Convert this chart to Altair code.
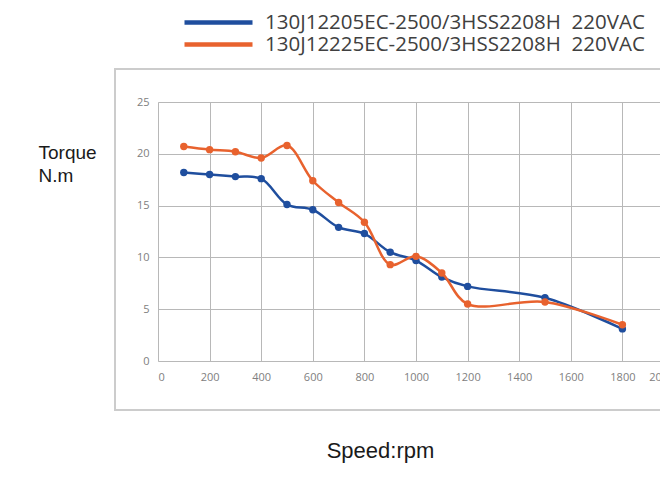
import altair as alt
import pandas as pd

speed = [100, 200, 300, 400, 500, 600, 700, 800, 900, 1000, 1100, 1200, 1500, 1800]
torque_a = [18.2, 18.0, 17.8, 17.6, 15.1, 14.6, 12.9, 12.3, 10.5, 9.7, 8.1, 7.2, 6.1, 3.1]
torque_b = [20.7, 20.4, 20.2, 19.6, 20.8, 17.4, 15.3, 13.4, 9.3, 10.1, 8.5, 5.5, 5.7, 3.5]
series_names = ["130J12205EC-2500/3HSS2208H\u00a0 220VAC", "130J12225EC-2500/3HSS2208H\u00a0 220VAC"]
colors = ["#1F4E9E", "#E8622E"]
x_ticks = [0, 200, 400, 600, 800, 1000, 1200, 1400, 1600, 1800, 2000]
y_ticks = [0, 5, 10, 15, 20, 25]

font = "Liberation Sans"
tick_font = "Open Sans"

xscale = alt.Scale(domain=[0, 2000], nice=False, range=[0, 516])
yscale = alt.Scale(domain=[0, 25], nice=False)

xaxis = alt.Axis(
    values=x_ticks,
    format="d",
    title="Speed:rpm",
    titleFont=font,
    titleFontSize=22,
    titleFontWeight="normal",
    titleColor="#1a1a1a",
    titleBaseline="alphabetic",
    titleAlign="center",
    titleY=96,
    titleX=222,
    labelFont=tick_font,
    labelFontSize=11,
    labelColor="#808080",
    labelPadding=10,
    domain=False,
    ticks=False,
    gridColor="#b8b8b8",
    gridWidth=1,
)
yaxis = alt.Axis(
    values=y_ticks,
    title=["Torque", "N.m"],
    titleFont=font,
    titleFontSize=19,
    titleFontWeight="normal",
    titleColor="#1a1a1a",
    titleAngle=0,
    titleAlign="left",
    titleBaseline="alphabetic",
    titleLineHeight=23,
    titleX=-120,
    titleY=56,
    labelFont=tick_font,
    labelFontSize=11,
    labelColor="#808080",
    labelPadding=9,
    domain=False,
    ticks=False,
    gridColor="#b8b8b8",
    gridWidth=1,
)


def legend_for(y):
    return alt.Legend(
        title=None,
        orient="none",
        legendX=24,
        legendY=y,
        padding=0,
        symbolType="stroke",
        symbolSize=4624,
        symbolStrokeWidth=4.5,
        labelFont=tick_font,
        labelFontSize=20.5,
        labelColor="#404040",
        labelOffset=10,
        labelLimit=700,
    )


frame = alt.Chart(pd.DataFrame({"a": [0]})).mark_rect(
    fillOpacity=0, stroke="#cccccc", strokeWidth=2
).encode(
    x=alt.value(-43), x2=alt.value(700), y=alt.value(-33), y2=alt.value(308)
)

layers = [frame]
legend_y = [-116, -94]
for name, vals, col, ly in zip(series_names, [torque_a, torque_b], colors, legend_y):
    d = pd.DataFrame({"speed": speed, "torque": vals, "series": [name] * len(speed)})
    line = alt.Chart(d).mark_line(interpolate="catmull-rom", strokeWidth=2.5).encode(
        x=alt.X("speed:Q", scale=xscale, axis=xaxis),
        y=alt.Y("torque:Q", scale=yscale, axis=yaxis),
        color=alt.Color("series:N", scale=alt.Scale(domain=[name], range=[col]), legend=legend_for(ly)),
    )
    pts = alt.Chart(d).mark_circle(size=55, opacity=1, color=col).encode(
        x=alt.X("speed:Q", scale=xscale),
        y=alt.Y("torque:Q", scale=yscale),
    )
    layers += [line, pts]

chart = alt.layer(*layers).resolve_scale(color="independent").resolve_legend(color="independent").properties(
    width=502,
    height=259,
    autosize=alt.AutoSizeParams(type="none"),
    padding={"left": 150, "top": 94, "right": 0, "bottom": 110},
).configure_view(stroke=None, clip=False).configure(background="white")

chart.save("out.html", embed_options={"renderer": "svg", "actions": False})
